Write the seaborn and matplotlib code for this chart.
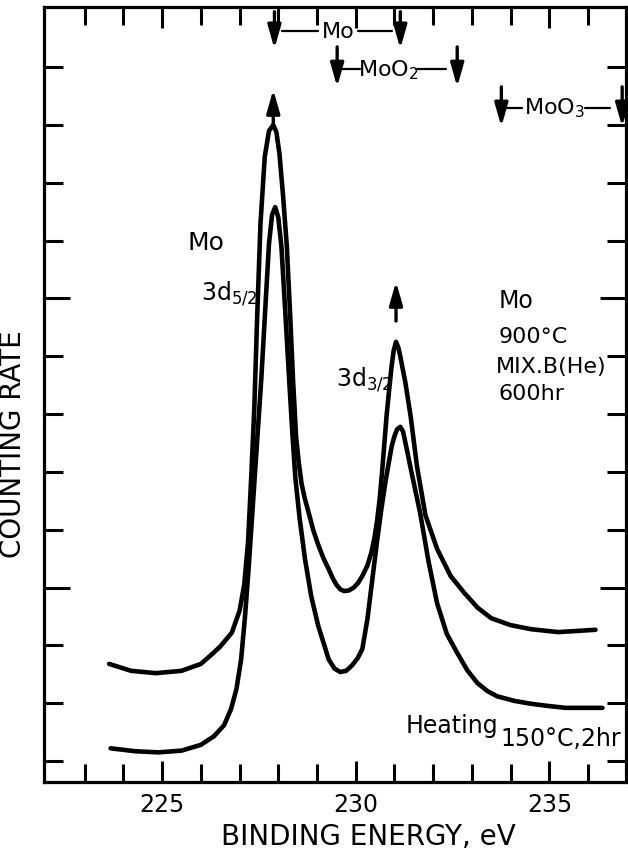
import matplotlib
matplotlib.use('Agg')
import matplotlib.pyplot as plt
from matplotlib.ticker import FixedLocator, NullFormatter
import seaborn as sns
import pandas as pd

# Mo 3d spectrum after 900C / 600 hr in MIX.B(He)
upper_energy = [223.63, 224.2, 224.84, 225.5, 226.0, 226.24, 226.50, 226.80, 227.00, 227.12,
                227.22, 227.30, 227.38, 227.45, 227.54, 227.65, 227.76, 227.87, 227.95, 228.03,
                228.12, 228.22, 228.30, 228.38, 228.46, 228.53, 228.60, 228.68, 228.77, 228.90,
                229.03, 229.17, 229.30, 229.40, 229.50, 229.60, 229.70, 229.82, 229.95, 230.06,
                230.17, 230.30, 230.40, 230.48, 230.55, 230.62, 230.68, 230.80, 230.92, 230.98,
                231.04, 231.10, 231.15, 231.28, 231.42, 231.58, 231.80, 232.10, 232.45, 232.80,
                233.15, 233.50, 234.00, 234.53, 235.23, 236.19]
upper_counts = [1.68, 1.56, 1.52, 1.56, 1.68, 1.82, 1.98, 2.22, 2.6, 3.05,
                3.8, 4.9, 6.1, 7.6, 9.3, 10.45, 10.9, 11.0, 10.88, 10.5,
                9.8, 8.9, 7.8, 6.6, 5.6, 5.15, 4.8, 4.55, 4.33, 4.0,
                3.74, 3.5, 3.32, 3.17, 3.05, 2.97, 2.94, 2.95, 3.0, 3.08,
                3.2, 3.38, 3.6, 3.85, 4.15, 4.55, 5.0, 6.0, 6.8, 7.1,
                7.25, 7.15, 7.0, 6.55, 5.95, 5.1, 4.25, 3.67, 3.2, 2.91,
                2.65, 2.47, 2.35, 2.28, 2.23, 2.27]

# after heating 150C, 2 hr
lower_energy = [223.67, 224.3, 224.9, 225.5, 226.0, 226.34, 226.6, 226.78, 226.92, 227.04,
                227.14, 227.23, 227.33, 227.44, 227.56, 227.67, 227.76, 227.84, 227.92,
                228.00, 228.08, 228.18, 228.28, 228.36, 228.44, 228.55, 228.69, 228.85, 229.03,
                229.30, 229.45, 229.60, 229.75, 229.90, 230.05, 230.17, 230.30, 230.42, 230.54,
                230.66, 230.76, 230.85, 230.93, 231.00, 231.07, 231.15, 231.22, 231.30, 231.46,
                231.66, 231.88, 232.10, 232.35, 232.62, 232.88, 233.14, 233.40, 233.65, 234.10,
                234.53, 235.00, 235.41, 236.37]
lower_counts = [0.22, 0.17, 0.15, 0.18, 0.28, 0.43, 0.62, 0.90, 1.25, 1.76,
                2.5, 3.3, 4.3, 5.4, 6.6, 7.9, 8.95, 9.45, 9.58,
                9.4, 8.9, 7.77, 6.6, 5.7, 4.9, 4.2, 3.49, 2.85, 2.34,
                1.76, 1.60, 1.54, 1.56, 1.65, 1.78, 1.94, 2.45, 3.10, 3.75,
                4.35, 4.8, 5.15, 5.45, 5.62, 5.74, 5.78, 5.7, 5.45, 4.93,
                4.30, 3.45, 2.73, 2.2, 1.87, 1.57, 1.35, 1.21, 1.12, 1.04,
                0.99, 0.95, 0.92, 0.92]

x_major = [225, 230, 235]
x_minor = [223, 224, 226, 227, 228, 229, 231, 232, 233, 234, 236]
y_major = [3, 8]
y_minor = [0, 1, 2, 4, 5, 6, 7, 9, 10, 11, 12]

sns.set_style('ticks')
plt.rcParams['font.family'] = ['DejaVu Sans']
plt.rcParams['mathtext.fontset'] = 'dejavusans'
plt.rcParams['text.color'] = 'black'
plt.rcParams['axes.labelcolor'] = 'black'
plt.rcParams['xtick.color'] = 'black'
plt.rcParams['ytick.color'] = 'black'

fig = plt.figure(figsize=(6.28, 8.54), dpi=100)
ax = fig.add_axes([0.0701, 0.0831, 0.9268, 0.9075])

up = pd.DataFrame({'energy': upper_energy, 'counts': upper_counts})
lo = pd.DataFrame({'energy': lower_energy, 'counts': lower_counts})
for d in (up, lo):
    sns.lineplot(data=d, x='energy', y='counts', ax=ax, color='black', lw=3.3,
                 sort=False, solid_joinstyle='round', solid_capstyle='round')

ax.set_xlim(221.95, 236.98)
ax.set_ylim(-0.363, 13.04)

ax.xaxis.set_major_locator(FixedLocator(x_major))
ax.xaxis.set_minor_locator(FixedLocator(x_minor))
ax.set_xticklabels([str(v) for v in x_major])
ax.yaxis.set_major_locator(FixedLocator(y_major))
ax.yaxis.set_minor_locator(FixedLocator(y_minor))
ax.yaxis.set_major_formatter(NullFormatter())

ax.tick_params(which='both', direction='in', top=True, right=True, width=2.2, color='black')
ax.tick_params(axis='x', which='major', length=15, labelsize=17, pad=7)
ax.tick_params(axis='x', which='minor', length=13)
ax.tick_params(axis='y', which='major', length=19)
ax.tick_params(axis='y', which='minor', length=14)
for s in ax.spines.values():
    s.set_linewidth(2.3)
    s.set_color('black')

ax.set_xlabel('BINDING ENERGY, eV', fontsize=20)
ax.xaxis.set_label_coords(0.558, -0.052)
ax.set_ylabel('COUNTING RATE', fontsize=20)
ax.yaxis.set_label_coords(-0.03, 0.437)

# peak labels
ax.text(226.13, 8.98, 'Mo', fontsize=18, ha='center', va='center')
ax.text(226.0, 7.99, '3d$_{5/2}$', fontsize=17, ha='left', va='baseline')
ax.text(229.50, 6.49, '3d$_{3/2}$', fontsize=17, ha='left', va='baseline')

# sample conditions
ax.text(233.68, 7.85, 'Mo', fontsize=17, ha='left', va='baseline')
ax.text(233.68, 7.25, '900°C', fontsize=16, ha='left', va='baseline')
ax.text(233.63, 6.73, 'MIX.B(He)', fontsize=16, ha='left', va='baseline')
ax.text(233.68, 6.26, '600hr', fontsize=16, ha='left', va='baseline')
ax.text(231.28, 0.50, 'Heating', fontsize=17, ha='left', va='baseline')
ax.text(233.73, 0.28, '150°C,2hr', fontsize=17, ha='left', va='baseline')

arrow = dict(arrowstyle='-|>,head_length=0.7,head_width=0.2', lw=2.4,
             color='black', mutation_scale=20, shrinkA=0, shrinkB=0)

# peak markers
ax.annotate('', xy=(227.87, 11.61), xytext=(227.87, 11.02), arrowprops=arrow)
ax.annotate('', xy=(231.04, 8.29), xytext=(231.04, 7.61), arrowprops=arrow)

# reference positions for Mo, MoO2, MoO3
refs = [
    ('Mo', 227.9, 231.15, 12.96, 12.32, 229.55, 12.63, (228.10, 229.03), (230.06, 230.94)),
    ('MoO$_2$', 229.52, 232.62, 12.35, 11.66, 230.84, 11.97, (229.65, 230.11), (231.56, 232.34)),
    ('MoO$_3$', 233.76, 236.88, 11.66, 10.97, 235.13, 11.30, (233.91, 234.30), (235.93, 236.57)),
]
for label, xa, xb, ytop, ytip, xt, yt, d1, d2 in refs:
    for xv in (xa, xb):
        ax.annotate('', xy=(xv, ytip), xytext=(xv, ytop), arrowprops=arrow)
    ax.text(xt, yt, label, fontsize=16, ha='center', va='center')
    ax.plot(d1, (yt, yt), color='black', lw=1.6)
    ax.plot(d2, (yt, yt), color='black', lw=1.6)

plt.savefig('out.png', dpi=100)
